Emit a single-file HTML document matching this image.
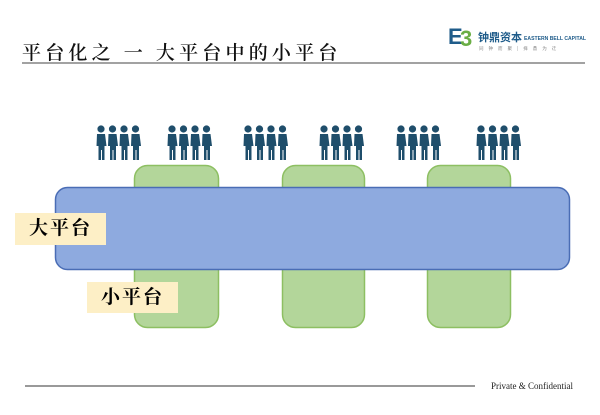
<!DOCTYPE html>
<html><head><meta charset="utf-8"><style>
body{margin:0;width:600px;height:415px;background:#fff;overflow:hidden;position:relative;font-family:"Liberation Serif","Noto Serif CJK SC",serif}
.t{position:absolute;left:22px;top:38px;font-size:19px;letter-spacing:4.2px;color:#111;font-family:"Liberation Serif","Noto Serif CJK SC",serif;font-weight:600;white-space:nowrap}
.lab{position:absolute;background:#fdefc6;font-size:19px;font-weight:bold;text-align:center;letter-spacing:2px;font-family:"Liberation Serif","Noto Serif CJK SC",serif}
</style></head><body>
<div class="t">平台化之 一 大平台中的小平台</div>
<svg width="600" height="415" style="position:absolute;left:0;top:0">
<defs>
<g id="p"><circle cx="5" cy="4" r="3.6" fill="#1f4e6b"/><path d="M1,9 h8 l1.5,12 h-2 v14 h-2.5 v-10 h-1 v10 h-2.5 v-14 h-2 z" fill="#1f4e6b"/></g>
<g id="g"><use href="#p" x="0"/><use href="#p" x="11.5"/><use href="#p" x="23"/><use href="#p" x="34.5"/></g>
</defs>
<line x1="22" y1="63" x2="585" y2="63" stroke="#444" stroke-width="1"/>
<text x="448" y="44" font-family="Liberation Sans" font-size="22" font-weight="bold" fill="#1f5c8a">E</text>
<text x="460" y="46" font-family="Liberation Sans" font-size="22" font-weight="bold" fill="#6aae45">3</text>
<text x="478" y="41" font-family="Noto Sans CJK SC" font-size="11" font-weight="bold" fill="#1f5c8a">钟鼎资本</text>
<text x="524" y="40" font-family="Liberation Sans" font-size="5" font-weight="bold" fill="#1f5c8a" textLength="62" lengthAdjust="spacingAndGlyphs">EASTERN BELL CAPITAL</text>
<text x="479" y="50" font-family="Noto Sans CJK SC" font-size="4.5" fill="#888" letter-spacing="5">同钟而聚|择鼎为迁</text>
<use href="#g" x="96" y="125"/><use href="#g" x="167" y="125"/><use href="#g" x="243" y="125"/>
<use href="#g" x="319" y="125"/><use href="#g" x="396" y="125"/><use href="#g" x="476" y="125"/>
<rect x="134.5" y="165.5" width="84" height="162" rx="13" fill="#b3d69a" stroke="#8dbf62" stroke-width="1.5"/>
<rect x="282.5" y="165.5" width="82" height="162" rx="13" fill="#b3d69a" stroke="#8dbf62" stroke-width="1.5"/>
<rect x="427.5" y="165.5" width="83" height="162" rx="13" fill="#b3d69a" stroke="#8dbf62" stroke-width="1.5"/>
<rect x="55.5" y="187.5" width="514" height="82" rx="12" fill="#8eaadf" stroke="#4a6db5" stroke-width="1.5"/>
<line x1="25" y1="386" x2="475" y2="386" stroke="#333" stroke-width="1"/>
<text x="491" y="389" font-family="Liberation Serif" font-size="9" fill="#222">Private &amp; Confidential</text>
</svg>
<div class="lab" style="left:15px;top:213px;width:91px;height:32px;line-height:32px">大平台</div>
<div class="lab" style="left:87px;top:282px;width:91px;height:31px;line-height:31px">小平台</div>
</body></html>
